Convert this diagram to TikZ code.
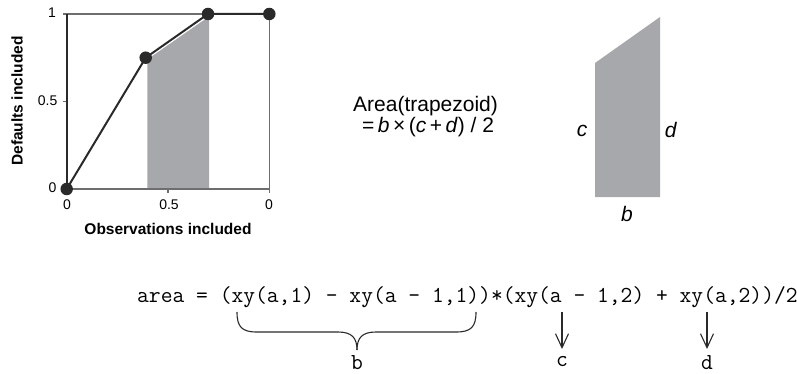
\documentclass[tikz,border=0pt]{standalone}
\usepackage{fontspec}
\setmainfont{Liberation Sans}
\usetikzlibrary{arrows.meta}
\definecolor{shadegray}{HTML}{A7A8AB}
\definecolor{inkdark}{HTML}{2A2A2A}
\definecolor{axisgray}{HTML}{6E6E6E}
\begin{document}
\begin{tikzpicture}[x=1pt,y=-1pt,
  dot/.style={circle,fill=inkdark,inner sep=0pt,minimum size=12.5pt},
  curve/.style={line width=2pt,color=inkdark},
  thinaxis/.style={line width=1.3pt,color=axisgray},
  thickaxis/.style={line width=2.2pt,color=inkdark},
  ticklbl/.style={font=\fontsize{14}{16}\selectfont,inner sep=0pt},
  axtitle/.style={font=\fontsize{15.5}{18}\selectfont\bfseries,inner sep=0pt},
  bigtext/.style={font=\fontsize{21}{24}\selectfont,inner sep=0pt},
  codetext/.style={font=\fontsize{22.9}{24}\selectfont\ttfamily,inner sep=0pt},
  bracestyle/.style={line width=1.1pt,color=inkdark},
  pointer/.style={line width=1.1pt,color=inkdark,-{Straight Barb[length=14pt,width=13pt,line width=1.1pt]}}
]
\useasboundingbox (0,0) rectangle (797,374);

% ---------- plot ----------
\coordinate (p0) at (66.7,189);
\coordinate (p1) at (145.7,57.7);
\coordinate (p2) at (208,14);
\coordinate (p3) at (269.3,14);

% shaded area
\fill[shadegray] (147.3,189) -- (147.3,59.5) -- (209,16.5) -- (209,189) -- cycle;

% axes
\draw[thinaxis] (63,14) -- (269.3,14);
\draw[thinaxis] (66.7,189) -- (269.3,189);
\draw[thinaxis] (269.3,14) -- (269.3,193);
\draw[thinaxis] (62.5,101.5) -- (66.7,101.5);
\draw[thinaxis] (62.5,189) -- (66.7,189);
\draw[thinaxis] (168,189) -- (168,193);
\draw[thinaxis] (66.7,189) -- (66.7,193);
\draw[thickaxis] (66.7,14) -- (66.7,189);

% curve
\draw[curve] (p0) -- (p1) -- (p2) -- (p3);
\node[dot] (d0) at (p0) {};
\node[dot] (d1) at (p1) {};
\node[dot] (d2) at (p2) {};
\node[dot] (d3) at (p3) {};

% tick labels
\node[ticklbl,anchor=east] (y1) at (56,13) {1};
\node[ticklbl,anchor=east] (y05) at (57.5,101) {0.5};
\node[ticklbl,anchor=east] (y0) at (56.5,188) {0};
\node[ticklbl] (x0) at (67,205) {0};
\node[ticklbl] (x05) at (169,205) {0.5};
\node[ticklbl] (x1) at (269,205) {0};

% axis titles
\node[axtitle] (xt) at (168,229) {Observations included};
\node[axtitle,rotate=90] (yt) at (17,101) {Defaults included};

% ---------- formula ----------
\node[bigtext,anchor=base west] (f1) at (353,112) {Area(trapezoid)};
\node[bigtext,anchor=base west] (f2) at (362,133) {=\,\textit{b}\,×\,(\textit{c}\,+\,\textit{d}) / 2};

% ---------- trapezoid ----------
\coordinate (t1) at (595,63);
\coordinate (t2) at (660,17);
\coordinate (t3) at (660,197);
\coordinate (t4) at (595,197);
\fill[shadegray] (t1) -- (t2) -- (t3) -- (t4) -- cycle;
\node[bigtext] (tc) at (582,131) {\textit{c}};
\node[bigtext] (td) at (671,130) {\textit{d}};
\node[bigtext] (tb) at (627,214) {\textit{b}};

% ---------- code ----------
\node[codetext,anchor=base west] (code) at (137,302) {area = (xy(a,1) - xy(a - 1,1))*(xy(a - 1,2) + xy(a,2))/2};

% brace
\coordinate (bl) at (237,312);
\coordinate (br) at (476,312);
\coordinate (bt) at (357,350);
\draw[bracestyle] (bl) .. controls (237,327) and (242,332) .. (257,332)
  -- (338,332) .. controls (352,332) and (357,338) .. (bt);
\draw[bracestyle] (br) .. controls (476,327) and (471,332) .. (456,332)
  -- (376,332) .. controls (362,332) and (357,338) .. (bt);
\node[codetext,anchor=base] (lb) at (357,369.5) {b};

% arrows
\coordinate (ca) at (562,312);
\coordinate (cb) at (562,349);
\coordinate (da) at (707,312);
\coordinate (db) at (707,349);
\draw[pointer] (ca) -- (cb);
\draw[pointer] (da) -- (db);
\node[codetext,anchor=base] (lc) at (562,366) {c};
\node[codetext,anchor=base] (ld) at (707,369.5) {d};
\end{tikzpicture}
\end{document}
